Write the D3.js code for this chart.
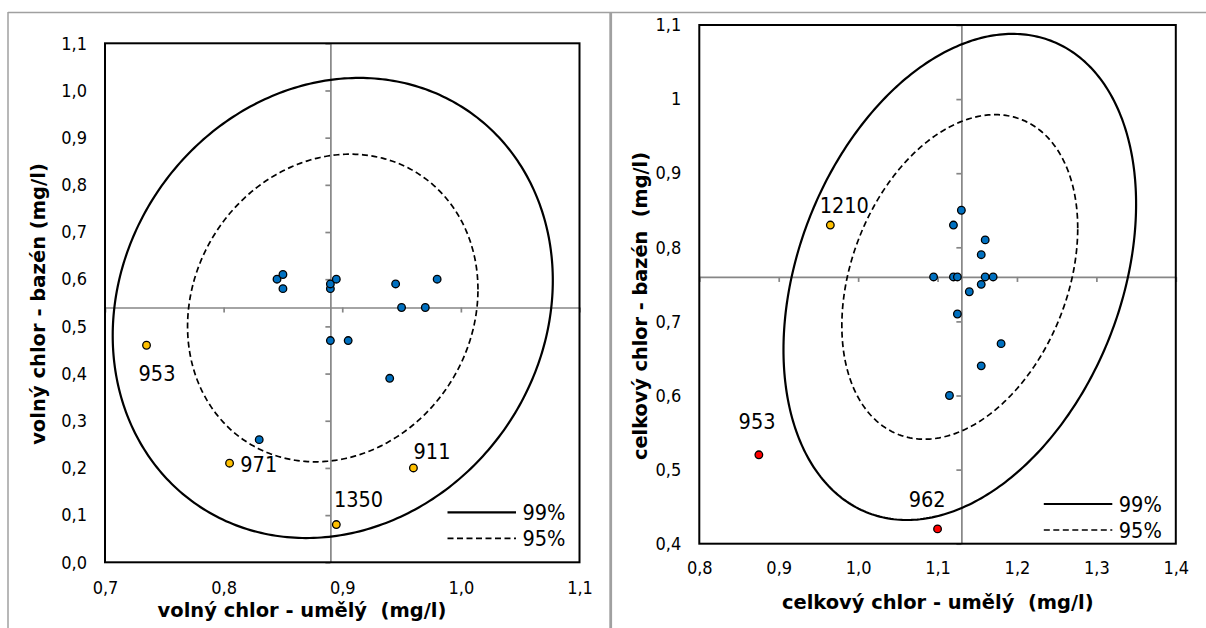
<!DOCTYPE html>
<html>
<head>
<meta charset="utf-8">
<script src="https://cdn.jsdelivr.net/npm/d3@7"></script>
<style>
  body { margin: 0; background: #fff; }
  svg text { font-family: "DejaVu Sans Condensed", "DejaVu Sans", sans-serif; font-stretch: condensed; fill: #000; }
  svg text.title { font-family: "DejaVu Sans", sans-serif; font-stretch: normal; font-weight: bold; white-space: pre; }
</style>
</head>
<body>
<svg id="chart" width="1206" height="628"></svg>
<script>
// volný chlor (left panel)
const volnyX = [0.845, 0.85, 0.85, 0.89, 0.89, 0.895, 0.945, 0.98, 0.95, 0.97, 0.89, 0.905, 0.94, 0.83]
const volnyY = [0.60, 0.61, 0.58, 0.58, 0.59, 0.60, 0.59, 0.60, 0.54, 0.54, 0.47, 0.47, 0.39, 0.26]
const volnyOutX = [0.735, 0.805, 0.96, 0.895]
const volnyOutY = [0.46, 0.21, 0.20, 0.08]
const volnyOutLab = ['953', '971', '911', '1350']
const volnyOutKind = ['warn', 'warn', 'warn', 'warn']
const volnyXTicks = [0.7, 0.8, 0.9, 1.0, 1.1]
const volnyXLabels = ['0,7', '0,8', '0,9', '1,0', '1,1']
const volnyYTicks = [0.0, 0.1, 0.2, 0.3, 0.4, 0.5, 0.6, 0.7, 0.8, 0.9, 1.0, 1.1]
const volnyYLabels = ['0,0', '0,1', '0,2', '0,3', '0,4', '0,5', '0,6', '0,7', '0,8', '0,9', '1,0', '1,1']
const volnyMean = [0.89, 0.54]
// ellipses: centre x, centre y, half width x, half height y, correlation
const volnyEll99 = [0.892, 0.539, 0.1855, 0.4876, 0.12]
const volnyEll95 = [0.892, 0.539, 0.1224, 0.326, 0.12]

// celkový chlor (right panel)
const celkX = [1.13, 1.12, 1.16, 1.155, 1.095, 1.12, 1.125, 1.16, 1.17, 1.155, 1.14, 1.125, 1.18, 1.155, 1.115]
const celkY = [0.85, 0.83, 0.81, 0.79, 0.76, 0.76, 0.76, 0.76, 0.76, 0.75, 0.74, 0.71, 0.67, 0.64, 0.60]
const celkOutX = [0.965, 0.875, 1.10]
const celkOutY = [0.83, 0.52, 0.42]
const celkOutLab = ['1210', '953', '962']
const celkOutKind = ['warn', 'bad', 'bad']
const celkXTicks = [0.8, 0.9, 1.0, 1.1, 1.2, 1.3, 1.4]
const celkXLabels = ['0,8', '0,9', '1,0', '1,1', '1,2', '1,3', '1,4']
const celkYTicks = [0.4, 0.5, 0.6, 0.7, 0.8, 0.9, 1.0, 1.1]
const celkYLabels = ['0,4', '0,5', '0,6', '0,7', '0,8', '0,9', '1', '1,1']
const celkMean = [1.13, 0.76]
const celkEll99 = [1.128, 0.760, 0.222, 0.328, 0.30]
const celkEll95 = [1.128, 0.760, 0.1485, 0.219, 0.30]

const legendNames = ['99%', '95%']

const kindColor = { ok: '#0070C0', warn: '#FFC000', bad: '#FF0000' }
const grey = '#868686'

const svg = d3.select('#chart')

// page frames around the two pictures
svg.append('g')
  .attr('stroke', '#a0a0a0')
  .selectAll('line')
  .data([
    [8, 12.5, 1206, 12.5, 1.5],
    [8, 12, 8, 628, 1.5],
    [610.7, 12, 610.7, 628, 2.8]
  ])
  .join('line')
  .attr('x1', d => d[0]).attr('y1', d => d[1])
  .attr('x2', d => d[2]).attr('y2', d => d[3])
  .attr('stroke-width', d => d[4])

const ellipsePoints = (e) => {
  const [cx, cy, rx, ry, r] = e
  const s = Math.sqrt(1 - r * r)
  return d3.range(0, 361).map(a => {
    const t = a * Math.PI / 180
    return [cx + rx * Math.cos(t), cy + ry * (r * Math.cos(t) + s * Math.sin(t))]
  })
}

// size a title so that it spans the width it has in the picture
const fitText = (sel, width) => {
  const w = sel.node().getComputedTextLength()
  const fs = +sel.attr('font-size')
  sel.attr('font-size', (fs * width / w).toFixed(2))
}

const panel = (opt) => {
  const x = d3.scaleLinear().domain(opt.xDomain).range([opt.left, opt.right])
  const y = d3.scaleLinear().domain(opt.yDomain).range([opt.bottom, opt.top])
  const g = svg.append('g')

  // crossing axes through the mean
  const cross = g.append('g').attr('class', 'cross')
  cross.append('g')
    .attr('transform', `translate(0,${y(opt.mean[1])})`)
    .call(d3.axisBottom(x).tickValues(opt.xTicks).tickSize(5).tickSizeOuter(0).tickFormat(''))
  cross.append('g')
    .attr('transform', `translate(${x(opt.mean[0])},0)`)
    .call(d3.axisLeft(y).tickValues(opt.yTicks).tickSize(5).tickSizeOuter(0).tickFormat(''))
  cross.selectAll('path, line').attr('stroke', grey).attr('stroke-width', 1.7)

  // tick labels at the low end
  const xl = g.append('g')
    .attr('transform', `translate(0,${opt.bottom})`)
    .call(d3.axisBottom(x).tickValues(opt.xTicks).tickSize(0).tickPadding(opt.xPad)
      .tickFormat((d, i) => opt.xLabels[i]))
  const yl = g.append('g')
    .attr('transform', `translate(${opt.left},0)`)
    .call(d3.axisLeft(y).tickValues(opt.yTicks).tickSize(0).tickPadding(18)
      .tickFormat((d, i) => opt.yLabels[i]))
  xl.select('.domain').remove()
  yl.select('.domain').remove()
  xl.attr('font-family', null).attr('font-size', null)
  yl.attr('font-family', null).attr('font-size', null)
  xl.selectAll('text').attr('font-size', 18)
  yl.selectAll('text').attr('font-size', 18)

  // ellipses
  const line = d3.line().x(d => x(d[0])).y(d => y(d[1])).curve(d3.curveLinearClosed)
  g.append('path')
    .attr('d', line(ellipsePoints(opt.ell99)))
    .attr('fill', 'none').attr('stroke', '#000').attr('stroke-width', 2.2)
  g.append('path')
    .attr('d', line(ellipsePoints(opt.ell95)))
    .attr('fill', 'none').attr('stroke', '#000').attr('stroke-width', 1.7)
    .attr('stroke-dasharray', '6,3.5')

  // plot frame
  g.append('rect')
    .attr('x', opt.left).attr('y', opt.top)
    .attr('width', opt.right - opt.left).attr('height', opt.bottom - opt.top)
    .attr('fill', 'none').attr('stroke', '#000').attr('stroke-width', 2)

  // points
  const pts = opt.px.map((v, i) => ({ x: v, y: opt.py[i], kind: 'ok' }))
  opt.ox.forEach((v, i) => pts.push({ x: v, y: opt.oy[i], kind: opt.oKind[i], label: opt.oLab[i], nudge: opt.nudge[i] }))
  g.append('g')
    .selectAll('circle')
    .data(pts)
    .join('circle')
    .attr('cx', d => x(d.x))
    .attr('cy', d => y(d.y))
    .attr('r', 3.8)
    .attr('fill', d => kindColor[d.kind])
    .attr('stroke', '#000')
    .attr('stroke-width', 1.3)

  g.append('g')
    .selectAll('text')
    .data(pts.filter(d => d.label))
    .join('text')
    .attr('x', d => x(d.x) + d.nudge[0])
    .attr('y', d => y(d.y) + d.nudge[1])
    .attr('text-anchor', 'middle')
    .attr('dominant-baseline', 'central')
    .attr('font-size', 21.5)
    .text(d => d.label)

  // legend
  const leg = g.append('g')
    .selectAll('g')
    .data(legendNames)
    .join('g')
    .attr('transform', (d, i) => `translate(${opt.right},${opt.bottom - opt.legBottom + i * 26})`)
  leg.append('line')
    .attr('x1', -132).attr('x2', -63.5)
    .attr('stroke', '#000')
    .attr('stroke-width', (d, i) => i ? 1.7 : 2.2)
    .attr('stroke-dasharray', (d, i) => i ? '6,3.5' : null)
  leg.append('text')
    .attr('x', -57)
    .attr('dominant-baseline', 'central')
    .attr('font-size', 21.5)
    .text(d => d)

  // axis titles
  const xt = g.append('text')
    .attr('class', 'title')
    .attr('x', opt.xTitlePos[0]).attr('y', opt.xTitlePos[1])
    .attr('text-anchor', 'middle')
    .attr('dominant-baseline', 'central')
    .attr('font-size', 20)
    .text(opt.xTitle)
  fitText(xt, opt.xTitleWidth)
  const yt = g.append('text')
    .attr('class', 'title')
    .attr('transform', `translate(${opt.yTitlePos[0]},${opt.yTitlePos[1]}) rotate(-90)`)
    .attr('text-anchor', 'middle')
    .attr('dominant-baseline', 'central')
    .attr('font-size', 20)
    .text(opt.yTitle)
  fitText(yt, opt.yTitleWidth)
}

panel({
  left: 105, right: 579.5, top: 43.3, bottom: 562.3,
  xDomain: [0.7, 1.1], yDomain: [0, 1.1],
  xTicks: volnyXTicks, xLabels: volnyXLabels, yTicks: volnyYTicks, yLabels: volnyYLabels,
  xPad: 19,
  mean: volnyMean, ell99: volnyEll99, ell95: volnyEll95,
  px: volnyX, py: volnyY,
  ox: volnyOutX, oy: volnyOutY, oLab: volnyOutLab, oKind: volnyOutKind,
  nudge: [[10.5, 28.3], [29.2, 1.7], [18.6, -16.7], [22.2, -24.7]],
  legBottom: 50,
  xTitle: 'volný chlor - umělý  (mg/l)', xTitlePos: [302, 610], xTitleWidth: 289,
  yTitle: 'volný chlor - bazén (mg/l)', yTitlePos: [38.9, 304], yTitleWidth: 282
})

panel({
  left: 699.3, right: 1175.8, top: 25, bottom: 543.7,
  xDomain: [0.8, 1.4], yDomain: [0.4, 1.1],
  xTicks: celkXTicks, xLabels: celkXLabels, yTicks: celkYTicks, yLabels: celkYLabels,
  xPad: 18,
  mean: celkMean, ell99: celkEll99, ell95: celkEll95,
  px: celkX, py: celkY,
  ox: celkOutX, oy: celkOutY, oLab: celkOutLab, oKind: celkOutKind,
  nudge: [[13.9, -19.3], [-1.8, -33], [-10.4, -29.2]],
  legBottom: 39.7,
  xTitle: 'celkový chlor - umělý  (mg/l)', xTitlePos: [937.8, 602], xTitleWidth: 312,
  yTitle: 'celkový chlor - bazén  (mg/l)', yTitlePos: [640.6, 306], yTitleWidth: 308
})
</script>
</body>
</html>
